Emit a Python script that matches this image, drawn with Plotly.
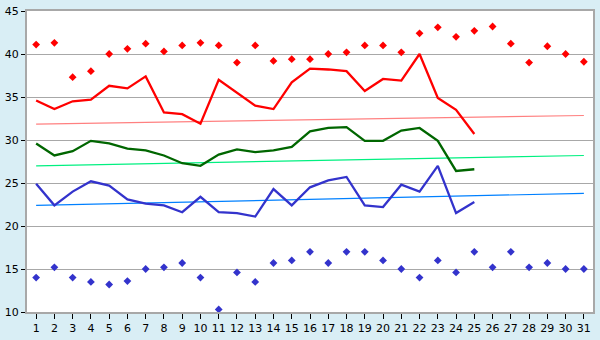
import plotly.graph_objects as go

days = list(range(1, 32))
line_days = list(range(1, 26))

red_line = [34.6, 33.6, 34.5, 34.7, 36.3, 36.0, 37.4, 33.2, 33.0, 31.9,
            37.0, 35.5, 34.0, 33.6, 36.7, 38.3, 38.2, 38.0, 35.7, 37.1,
            36.9, 40.0, 34.9, 33.5, 30.7]
green_line = [29.6, 28.2, 28.7, 29.9, 29.6, 29.0, 28.8, 28.2, 27.3, 27.0,
              28.3, 28.9, 28.6, 28.8, 29.2, 31.0, 31.4, 31.5, 29.9, 29.9,
              31.1, 31.4, 29.9, 26.4, 26.6]
blue_line = [24.9, 22.4, 24.0, 25.2, 24.7, 23.1, 22.6, 22.4, 21.6, 23.4,
             21.6, 21.5, 21.1, 24.3, 22.4, 24.5, 25.3, 25.7, 22.4, 22.2,
             24.8, 24.0, 27.0, 21.5, 22.8]
red_max = [41.1, 41.3, 37.3, 38.0, 40.0, 40.6, 41.2, 40.3, 41.0, 41.3,
           41.0, 39.0, 41.0, 39.2, 39.4, 39.4, 40.0, 40.2, 41.0, 41.0,
           40.2, 42.4, 43.1, 42.0, 42.7, 43.2, 41.2, 39.0, 40.9, 40.0, 39.1]
blue_min = [14.0, 15.2, 14.0, 13.5, 13.2, 13.6, 15.0, 15.2, 15.7, 14.0,
            10.3, 14.6, 13.5, 15.7, 16.0, 17.0, 15.7, 17.0, 17.0, 16.0,
            15.0, 14.0, 16.0, 14.6, 17.0, 15.2, 17.0, 15.2, 15.7, 15.0, 15.0]
trend_days = [1, 31]
red_trend = [31.85, 32.85]
green_trend = [27.0, 28.2]
blue_trend = [22.4, 23.8]

fig = go.Figure()
fig.add_trace(go.Scatter(x=trend_days, y=red_trend, mode="lines",
                         line=dict(color="#FF8080", width=1.2)))
fig.add_trace(go.Scatter(x=trend_days, y=green_trend, mode="lines",
                         line=dict(color="#00F080", width=1.2)))
fig.add_trace(go.Scatter(x=trend_days, y=blue_trend, mode="lines",
                         line=dict(color="#0080FF", width=1.2)))
fig.add_trace(go.Scatter(x=line_days, y=red_line, mode="lines",
                         line=dict(color="#FF0000", width=2.3)))
fig.add_trace(go.Scatter(x=line_days, y=green_line, mode="lines",
                         line=dict(color="#006600", width=2.3)))
fig.add_trace(go.Scatter(x=line_days, y=blue_line, mode="lines",
                         line=dict(color="#3333CC", width=2.3)))
fig.add_trace(go.Scatter(x=days, y=red_max, mode="markers",
                         marker=dict(symbol="diamond", size=6, color="#FF0000")))
fig.add_trace(go.Scatter(x=days, y=blue_min, mode="markers",
                         marker=dict(symbol="diamond", size=6, color="#3333CC")))

fig.update_layout(
    width=600, height=340,
    margin=dict(l=20, r=5, t=5, b=20),
    paper_bgcolor="#D9EEF5",
    plot_bgcolor="#FFFFFF",
    showlegend=False,
    font=dict(family="DejaVu Sans", size=11, color="#000000"),
)
fig.update_xaxes(range=[0.5, 31.5], tickmode="array", tickvals=days,
                 ticktext=[str(d) for d in days],
                 showgrid=False, zeroline=False,
                 showline=True, linecolor="#A8A8A8", linewidth=2, mirror=True,
                 ticks="outside", ticklen=5, tickcolor="#000000", tickwidth=1)
fig.update_yaxes(range=[10, 45], tickmode="array",
                 tickvals=[10, 15, 20, 25, 30, 35, 40, 45],
                 showgrid=True, gridcolor="#A8A8A8", gridwidth=1, zeroline=False,
                 showline=True, linecolor="#A8A8A8", linewidth=2, mirror=True,
                 ticks="outside", ticklen=4, tickcolor="#000000", tickwidth=1)

fig.write_html("out.html")
